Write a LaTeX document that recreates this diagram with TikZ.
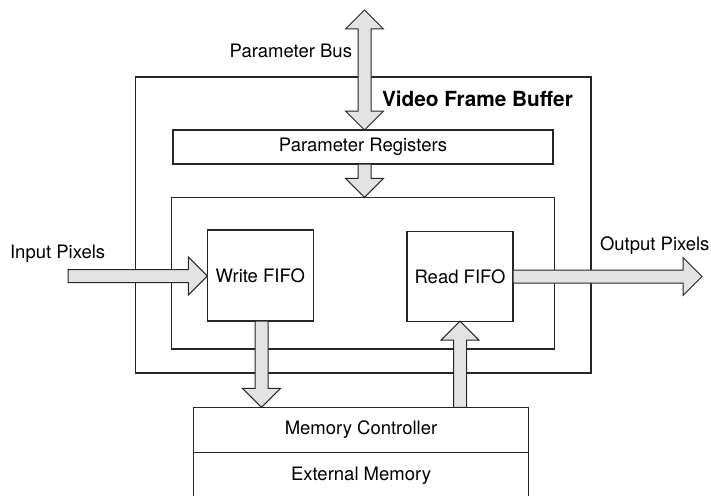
\documentclass[tikz,border=0pt]{standalone}
\usepackage{fontspec}
\setmainfont{TeX Gyre Heros}
\usetikzlibrary{calc}
\tikzset{
  box/.style={draw=black!85, line width=1.1pt, inner sep=0pt, outer sep=0pt, fill=none},
  lbl/.style={inner sep=0pt, outer sep=0pt, font=\fontsize{18.5}{22}\selectfont},
  blockarrow/.style={draw=black!85, line width=1pt, fill=black!11, line join=miter},
}
\newcommand\blkarrow[2]{%
  \coordinate (tmpH) at ($(#2)!19pt!(#1)$);
  \path[blockarrow] ($(#1)!6.5pt!90:(#2)$) -- ($(tmpH)!6.5pt!-90:(#1)$) -- ($(tmpH)!19pt!-90:(#1)$) -- (#2)
    -- ($(tmpH)!19pt!90:(#1)$) -- ($(tmpH)!6.5pt!90:(#1)$) -- ($(#1)!6.5pt!-90:(#2)$) -- cycle;}
\newcommand\blkdarrow[2]{%
  \coordinate (tmpH) at ($(#2)!19pt!(#1)$);
  \coordinate (tmpG) at ($(#1)!19pt!(#2)$);
  \path[blockarrow] (#1) -- ($(tmpG)!19pt!90:(#2)$) -- ($(tmpG)!6.5pt!90:(#2)$) -- ($(tmpH)!6.5pt!-90:(#1)$) -- ($(tmpH)!19pt!-90:(#1)$) -- (#2)
    -- ($(tmpH)!19pt!90:(#1)$) -- ($(tmpH)!6.5pt!90:(#1)$) -- ($(tmpG)!6.5pt!-90:(#2)$) -- ($(tmpG)!19pt!-90:(#2)$) -- cycle;}
\begin{document}
\begin{tikzpicture}[x=1pt,y=-1pt]
\useasboundingbox (0,0) rectangle (711,495);
\clip (0,0) rectangle (711,495);
% boxes
\node[box, minimum width=455.5pt, minimum height=296pt] (outer) at (363.25,225) {};
\node[box, minimum width=380pt, minimum height=34pt] (reg) at (363,147) {};
\node[box, minimum width=383pt, minimum height=151.7pt] (inner) at (363.05,273.15) {};
\node[box, minimum width=105.8pt, minimum height=91pt] (wf) at (260.3,275.5) {};
\node[box, minimum width=106pt, minimum height=89.6pt] (rf) at (460,276.3) {};
\node[box, minimum width=335pt, minimum height=45.4pt] (mc) at (361,430) {};
\node[box, minimum width=335pt, minimum height=45.4pt] (em) at (361,475.4) {};
% arrow anchor coordinates
\coordinate (busT) at (364.5,10);
\coordinate (inS) at (68,276);
\coordinate (outT) at (702,276.5);
\coordinate (wfd) at (261.5,0);
\coordinate (rfu) at (460,0);
% block arrows
\blkdarrow{busT}{busT |- reg.north}
\blkarrow{busT |- reg.south}{busT |- inner.north}
\blkarrow{inS}{wf.west |- inS}
\blkarrow{rf.east |- outT}{outT}
\blkarrow{wfd |- wf.south}{wfd |- mc.north}
\blkarrow{rfu |- mc.north}{rfu |- rf.south}
% texts
\node[lbl, anchor=base east] (tbus) at (352,57.7) {Parameter Bus};
\node[lbl, anchor=base west, font=\fontsize{20.8}{24}\selectfont\bfseries] (tvfb) at (382,106.5) {Video Frame Buffer};
\node[lbl] (treg) at (reg.center) {Parameter Registers};
\node[lbl, anchor=base west] (tin) at (10,258) {Input Pixels};
\node[lbl, anchor=base west] (tout) at (600,250) {Output Pixels};
\node[lbl] (twf) at (wf.center) {Write FIFO};
\node[lbl] (trf) at (rf.center) {Read FIFO};
\node[lbl] (tmc) at (mc.center) {Memory Controller};
\node[lbl] (tem) at (361,476) {External Memory};
\end{tikzpicture}
\end{document}
